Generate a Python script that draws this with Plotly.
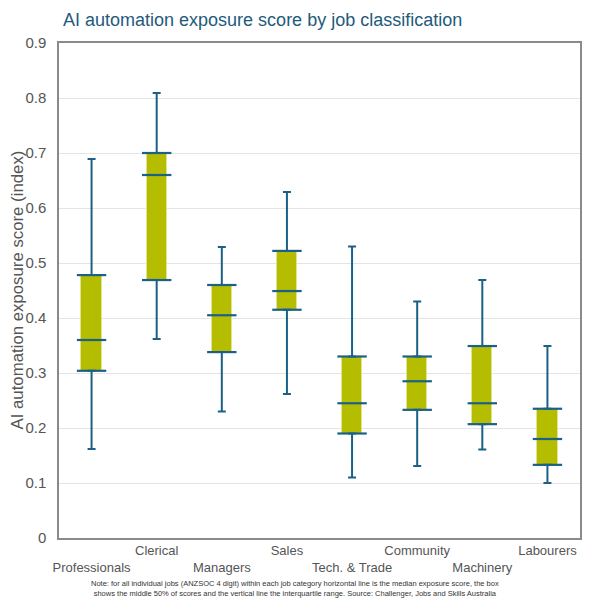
import plotly.graph_objects as go

categories = ["Professionals", "Clerical", "Managers", "Sales", "Tech. & Trade",
              "Community", "Machinery", "Labourers"]
mins    = [0.162, 0.362, 0.230, 0.262, 0.110, 0.131, 0.161, 0.100]
q1s     = [0.304, 0.469, 0.338, 0.415, 0.190, 0.233, 0.207, 0.133]
medians = [0.360, 0.660, 0.405, 0.449, 0.245, 0.285, 0.245, 0.180]
q3s     = [0.478, 0.700, 0.460, 0.522, 0.330, 0.330, 0.349, 0.235]
maxs    = [0.689, 0.809, 0.529, 0.629, 0.530, 0.430, 0.469, 0.349]

title_text = "AI automation exposure score by job classification"
y_title = "AI automation exposure score (index)"
note = ("Note: for all individual jobs (ANZSOC 4 digit) within each job category horizontal line is the median exposure score, the box"
        "<br>shows the middle 50% of scores and the vertical line the interquartile range. Source: Challenger, Jobs and Skills Australia")

BLUE = "#1b6187"
FILL = "#b5bd00"
FONT = "Liberation Sans, Arial, sans-serif"

fig = go.Figure()

# boxes (interquartile)
fig.add_trace(go.Bar(
    x=categories, base=q1s, y=[b - a for a, b in zip(q1s, q3s)],
    width=0.31, marker=dict(color=FILL, line=dict(color="#e2e38a", width=1)),
    showlegend=False, hoverinfo="skip"))

# upper whiskers
fig.add_trace(go.Scatter(
    x=categories, y=q3s, mode="markers",
    marker=dict(size=1, color="rgba(0,0,0,0)"),
    error_y=dict(type="data", symmetric=False,
                 array=[b - a for a, b in zip(q3s, maxs)],
                 arrayminus=[0] * len(q3s),
                 color=BLUE, thickness=2, width=4),
    showlegend=False, hoverinfo="skip"))

# lower whiskers
fig.add_trace(go.Scatter(
    x=categories, y=q1s, mode="markers",
    marker=dict(size=1, color="rgba(0,0,0,0)"),
    error_y=dict(type="data", symmetric=False,
                 array=[0] * len(q1s),
                 arrayminus=[a - b for a, b in zip(q1s, mins)],
                 color=BLUE, thickness=2, width=4),
    showlegend=False, hoverinfo="skip"))

# quartile & median lines
for vals in (q1s, medians, q3s):
    fig.add_trace(go.Scatter(
        x=categories, y=vals, mode="markers",
        marker=dict(symbol="line-ew", size=21, color=BLUE,
                    line=dict(color=BLUE, width=2.2)),
        showlegend=False, hoverinfo="skip"))

ticktext = [("<br>" + c) if i % 2 == 0 else c for i, c in enumerate(categories)]

fig.update_layout(
    width=590, height=609,
    margin=dict(l=59, r=10, t=43, b=71),
    paper_bgcolor="white", plot_bgcolor="white",
    font=dict(family=FONT, color="#555555"),
    title=dict(text=title_text, x=63 / 590, xanchor="left", xref="container",
               y=1 - 20 / 609, yanchor="middle", yref="container",
               font=dict(size=18, color="#1f5a7c", family=FONT)),
    bargap=0,
    xaxis=dict(type="category", categoryorder="array", categoryarray=categories,
               range=[-0.5, 7.5], tickmode="array", tickvals=categories, ticktext=ticktext,
               tickangle=0, automargin=False,
               showgrid=False, showline=True, mirror=True, linecolor="#8a8a8a", linewidth=1.5,
               ticks="", tickfont=dict(size=13, color="#555555")),
    yaxis=dict(range=[0, 0.9], dtick=0.1, tick0=0, showgrid=True, gridcolor="#e4e4e4",
               gridwidth=1, zeroline=False, showline=True, mirror=True, linecolor="#8a8a8a",
               linewidth=1.5, ticks="", ticklabelstandoff=8, automargin=False,
               tickfont=dict(size=15, color="#555555")),
    annotations=[
        dict(text=y_title, xref="paper", yref="paper", x=(17 - 59) / 521, y=0.5,
             xanchor="center", yanchor="middle", textangle=-90, showarrow=False,
             font=dict(size=16.8, color="#555555", family=FONT)),
        dict(text=note, xref="paper", yref="paper", x=(295 - 59) / 521, y=-0.079,
             xanchor="center", yanchor="top", showarrow=False, align="center",
             font=dict(size=7.5, color="#333333", family=FONT))],
)

fig.write_html("out.html")
